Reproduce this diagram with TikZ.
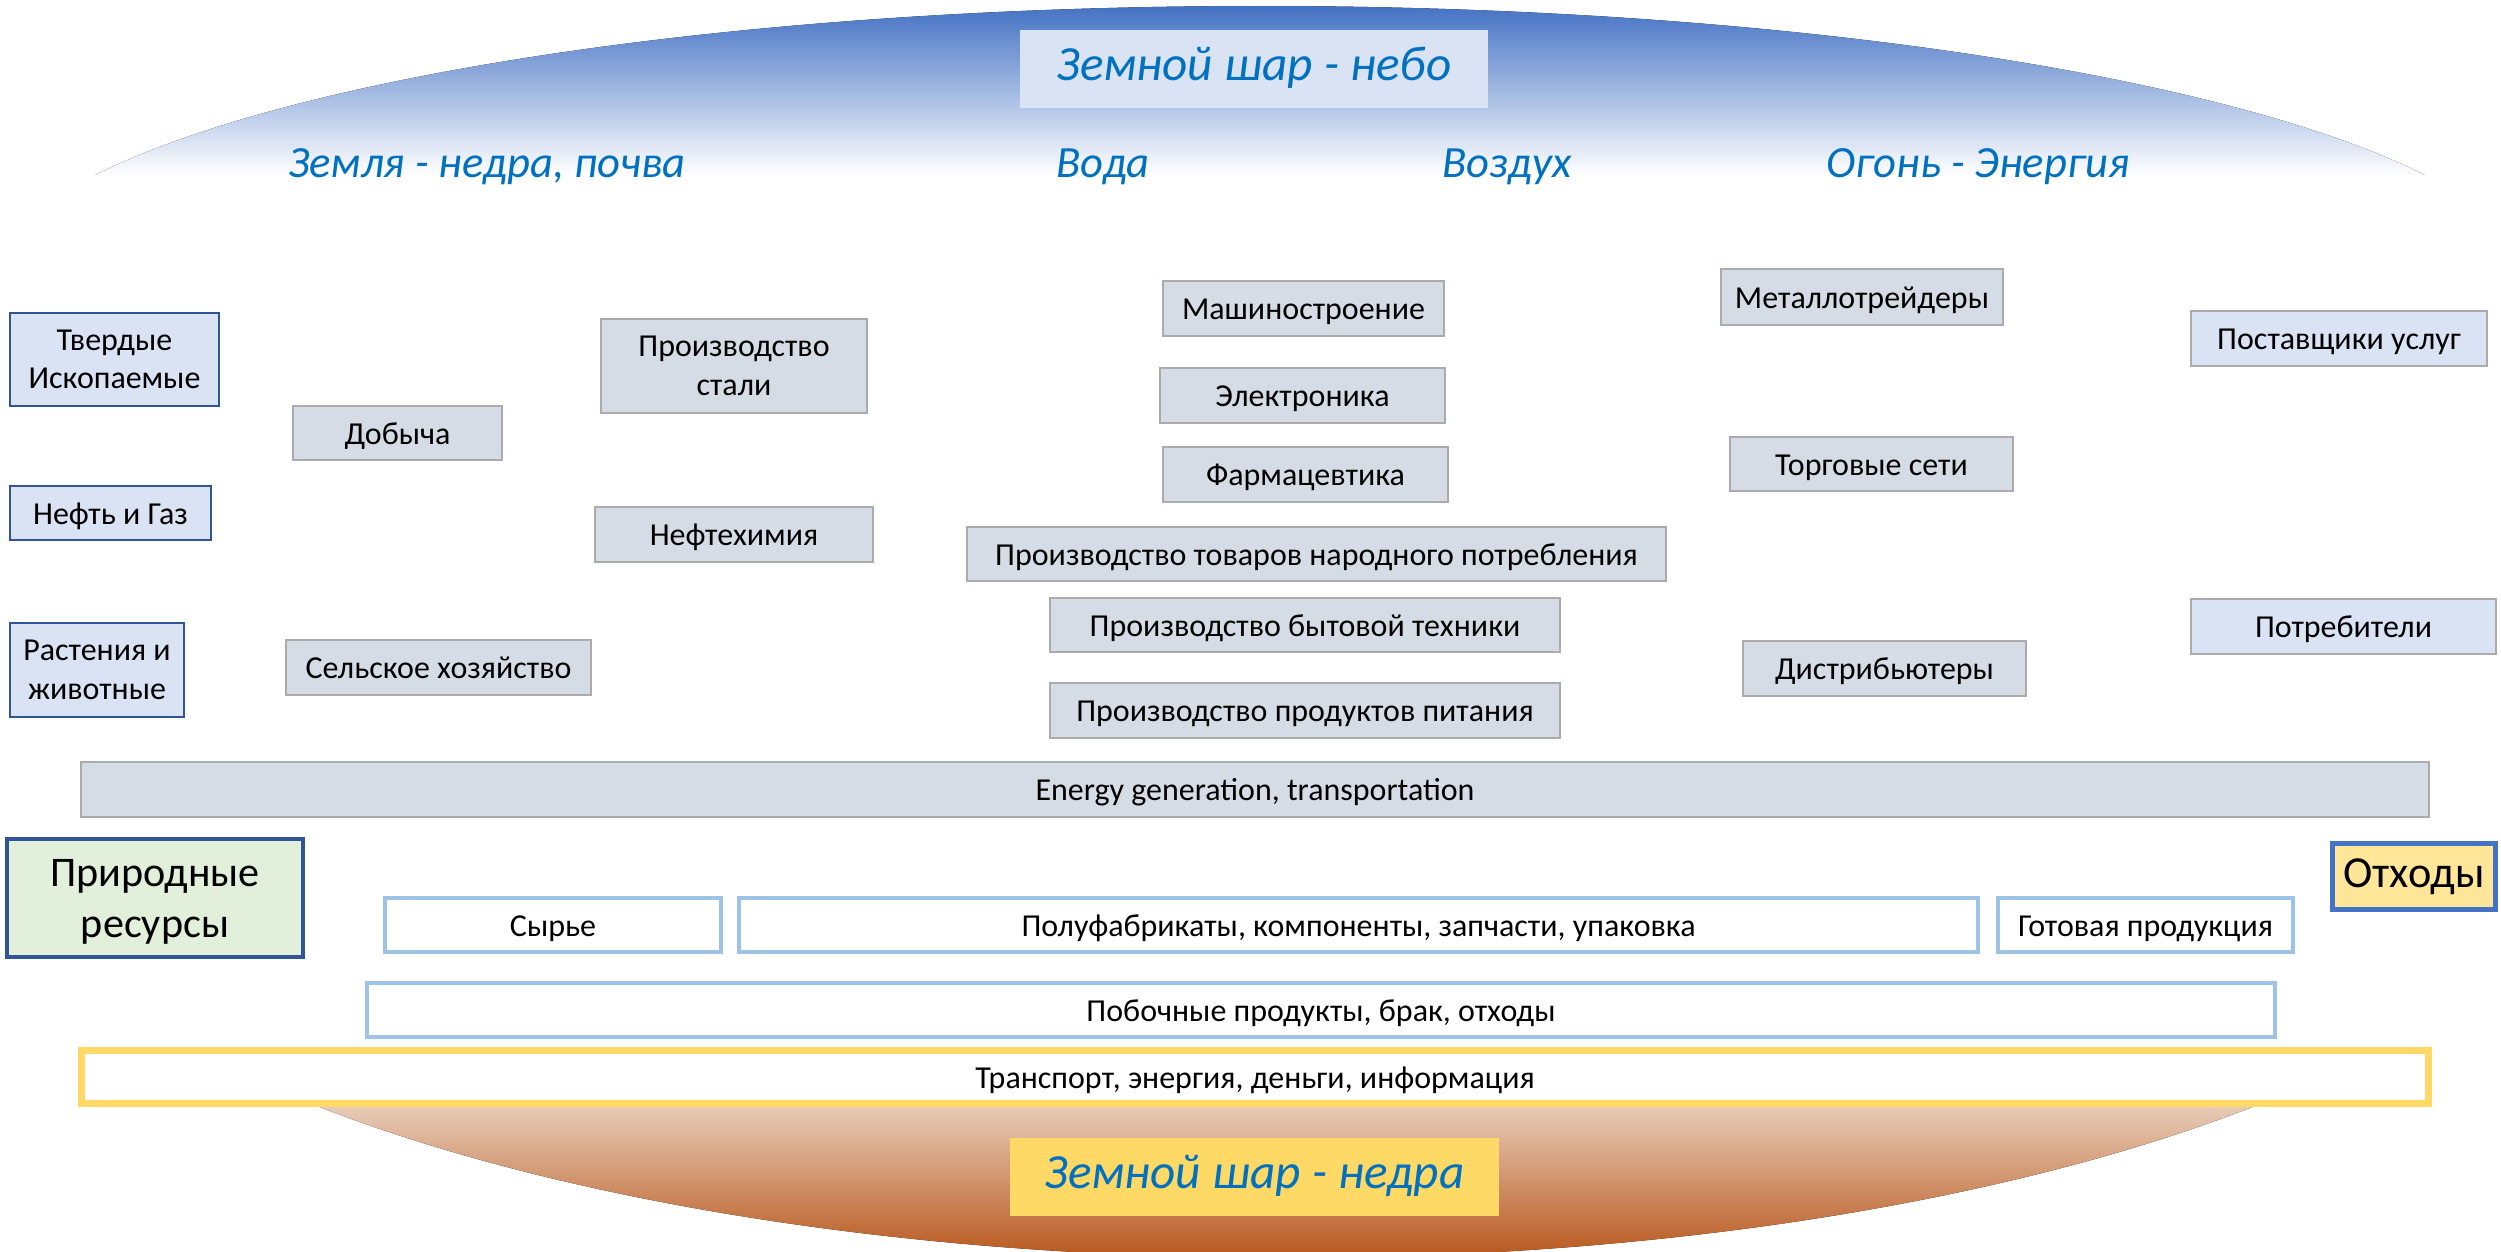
\documentclass[tikz,border=0pt]{standalone}
\usepackage{fontspec}
\setmainfont{Carlito}
\definecolor{skyblue}{HTML}{4472C4}
\definecolor{labelblue}{HTML}{0070C0}
\definecolor{paleblue}{HTML}{DAE3F3}
\definecolor{grayfill}{HTML}{D6DCE5}
\definecolor{grayline}{HTML}{ABABAB}
\definecolor{navy}{HTML}{2F5597}
\definecolor{lightgreen}{HTML}{E2EFDA}
\definecolor{barblue}{HTML}{9DC3E6}
\definecolor{gold}{HTML}{FFD966}
\definecolor{paleyellow}{HTML}{FFE699}
\definecolor{peach}{HTML}{E9D0BE}
\definecolor{rust}{HTML}{B8561B}
\tikzset{
  every node/.style={inner sep=0pt, outer sep=0pt, align=center, text height=0.8em, text depth=0.16em},
  txt/.style={font=\fontsize{9.1}{10.9}\selectfont},
  twolines/.style={text height=18.2pt},
  resbox/.style={txt, draw=navy, line width=0.6pt, fill=paleblue},
  indbox/.style={txt, draw=grayline, line width=0.6pt, fill=grayfill},
  clientbox/.style={txt, draw=grayline, line width=0.6pt, fill=paleblue},
  flowbar/.style={font=\fontsize{9.1}{10.9}\selectfont, draw=barblue, line width=1.2pt, fill=white},
  element/.style={font=\fontsize{12.7}{15}\itshape\selectfont, text=labelblue},
  globe/.style={font=\fontsize{14}{17}\itshape\selectfont, text=labelblue},
}
\begin{document}
\begin{tikzpicture}[x=0.1mm, y=-0.1mm]
\useasboundingbox (0,0) rectangle (2501,1252);

% sky dome
\begin{scope}
  \clip (1260,289) ellipse [x radius=127.2mm, y radius=28.3mm];
  \fill[top color=skyblue, bottom color=white] (0,6) rectangle (2501,175);
\end{scope}

% underground dome
\begin{scope}
  \clip (1286,802) ellipse [x radius=130mm, y radius=45.6mm];
  \fill[top color=peach, bottom color=rust] (0,1100) rectangle (2501,1260);
\end{scope}

% titles
\node[globe, fill=paleblue, minimum width=46.8mm, minimum height=7.8mm] (sky) at (1254,69) {Земной шар - небо};
\node[globe, fill=gold, minimum width=48.9mm, minimum height=7.8mm] (depth) at (1254.5,1177) {Земной шар - недра};

% elements
\node[element] (earth) at (487,166) {Земля - недра, почва};
\node[element] (water) at (1103,166) {Вода};
\node[element] (air) at (1507,166) {Воздух};
\node[element] (fire) at (1978,166) {Огонь - Энергия};

% natural resources
\node[resbox, twolines, minimum width=20.9mm, minimum height=9.3mm] (solid) at (114.5,359.5) {Твердые\\Ископаемые};
\node[resbox, minimum width=20.1mm, minimum height=5.4mm] (oil) at (110.5,513) {Нефть и Газ};
\node[resbox, twolines, minimum width=17.4mm, minimum height=9.4mm] (bio) at (97,670) {Растения и\\животные};

% primary industries
\node[indbox, minimum width=20.9mm, minimum height=5.4mm] (mining) at (397.5,433) {Добыча};
\node[indbox, minimum width=30.5mm, minimum height=5.5mm] (agro) at (438.5,667.5) {Сельское хозяйство};
\node[indbox, twolines, minimum width=26.6mm, minimum height=9.4mm] (steel) at (734,366) {Производство\\стали};
\node[indbox, minimum width=27.8mm, minimum height=5.5mm] (petro) at (734,534.5) {Нефтехимия};

% manufacturing
\node[indbox, minimum width=28.1mm, minimum height=5.5mm] (mach) at (1303.5,308.5) {Машиностроение};
\node[indbox, minimum width=28.5mm, minimum height=5.5mm] (elec) at (1302.5,395.5) {Электроника};
\node[indbox, minimum width=28.5mm, minimum height=5.5mm] (pharm) at (1305.5,474.5) {Фармацевтика};
\node[indbox, minimum width=69.9mm, minimum height=5.4mm] (goods) at (1316.5,554) {Производство товаров народного потребления};
\node[indbox, minimum width=51mm, minimum height=5.4mm] (appl) at (1305,625) {Производство бытовой техники};
\node[indbox, minimum width=51mm, minimum height=5.5mm] (food) at (1305,710.5) {Производство продуктов питания};

% trade
\node[indbox, minimum width=28.2mm, minimum height=5.6mm] (metal) at (1862,297) {Металлотрейдеры};
\node[indbox, minimum width=28.3mm, minimum height=5.4mm] (retail) at (1871.5,464) {Торговые сети};
\node[indbox, minimum width=28.3mm, minimum height=5.5mm] (distr) at (1884.5,668.5) {Дистрибьютеры};

% end users
\node[clientbox, minimum width=29.6mm, minimum height=5.5mm] (service) at (2339,338.5) {Поставщики услуг};
\node[clientbox, minimum width=30.5mm, minimum height=5.5mm] (cons) at (2343.5,626.5) {Потребители};

% energy band
\node[indbox, minimum width=234.8mm, minimum height=5.5mm] (energy) at (1255,789.5) {Energy generation, transportation};

% sources and sinks
\node[font=\fontsize{12}{14.5}\selectfont, text height=24.1pt, draw=navy, line width=1.2pt, fill=lightgreen, minimum width=29.6mm, minimum height=11.8mm] (natural) at (155,898) {Природные\\ресурсы};
\node[font=\fontsize{12.6}{15}\selectfont, draw=skyblue, line width=1.4pt, fill=paleyellow, minimum width=16.3mm, minimum height=6.6mm] (waste) at (2414,876.5) {Отходы};

% material flows
\node[flowbar, minimum width=33.6mm, minimum height=5.4mm] (raw) at (553,925) {Сырье};
\node[flowbar, minimum width=123.9mm, minimum height=5.4mm] (semi) at (1358.5,925) {Полуфабрикаты, компоненты, запчасти, упаковка};
\node[flowbar, minimum width=29.5mm, minimum height=5.4mm] (final) at (2145.5,925) {Готовая продукция};
\node[flowbar, minimum width=190.8mm, minimum height=5.4mm] (byprod) at (1321,1010) {Побочные продукты, брак, отходы};
\node[flowbar, draw=gold, line width=2pt, minimum width=234.7mm, minimum height=5.3mm] (infra) at (1255,1077) {Транспорт, энергия, деньги, информация};
\end{tikzpicture}
\end{document}
